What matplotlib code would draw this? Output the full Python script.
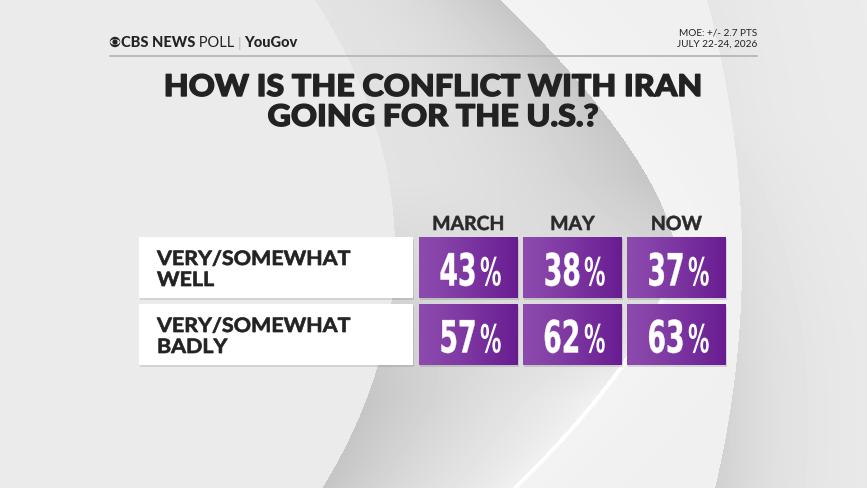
"""CBS News / YouGov poll card: how the conflict with Iran is going for the U.S."""

import matplotlib
matplotlib.use("Agg")
import matplotlib.pyplot as plt
import numpy as np
from matplotlib.patches import Rectangle, Circle, Ellipse
from matplotlib.patheffects import AbstractPathEffect
from matplotlib.transforms import Affine2D

# ---- data -------------------------------------------------------------
periods = ["MARCH", "MAY", "NOW"]
answers = ["VERY/SOMEWHAT\nWELL", "VERY/SOMEWHAT\nBADLY"]
well = [43, 38, 37]
badly = [57, 62, 63]
title_lines = ["HOW IS THE CONFLICT WITH IRAN", "GOING FOR THE U.S.?"]
moe_lines = ["MOE: +/- 2.7 PTS", "JULY 22-24, 2026"]

# ---- layout (pixels) -------------------------------------------------
W, H = 867, 488
ROW_TOP = [237, 304]
ROW_H = 61
LABEL_X, LABEL_W = 139, 274
CELL_X0, CELL_W, CELL_STEP = 419, 99, 104
DARK = "#222222"
PURPLE_L = np.array([0.55, 0.29, 0.68])
PURPLE_R = np.array([0.41, 0.11, 0.57])

TITLE_FONT = ["Lato", "DejaVu Sans"]
LABEL_FONT = ["Lato", "DejaVu Sans"]
NUM_FONT = ["DejaVu Sans"]


class Squeeze(AbstractPathEffect):
    """Scale glyph outlines horizontally (poor man's condensed/extended face),
    optionally thickening them with a stroke of the same colour."""

    def __init__(self, sx, anchor="center", stroke=0.0):
        super().__init__()
        self.sx, self.anchor, self.stroke = sx, anchor, stroke

    def draw_path(self, renderer, gc, tpath, affine, rgbFace=None):
        xs = tpath.vertices[:, 0]
        if len(xs) == 0:
            return
        x0 = {"left": xs.min(), "right": xs.max()}.get(self.anchor, 0.5 * (xs.min() + xs.max()))
        aff = Affine2D().translate(-x0, 0).scale(self.sx, 1).translate(x0, 0) + affine
        if self.stroke > 0:
            gc0 = renderer.new_gc()
            gc0.copy_properties(gc)
            gc0.set_linewidth(self.stroke)
            gc0.set_foreground(rgbFace)
            renderer.draw_path(gc0, tpath, aff, rgbFace)
            gc0.restore()
        else:
            renderer.draw_path(gc, tpath, aff, rgbFace)


def background():
    """Grey swoosh backdrop built procedurally."""
    yy, xx = np.mgrid[0:H, 0:W] + 0.5
    t = (yy - 250) / 250
    xl = 395 - 80 * t ** 2
    xr = 675 - 175 * np.abs(t) ** 1.5
    tw = (yy - 260) / 260
    xw = 742 - 35 * tw ** 2

    val = np.full((H, W), 0.918)
    band = (xx >= xl) & (xx < xr)
    s = np.clip((xx - xl) / (xr - xl), 0, 1)
    w = np.clip((yy - 180) / 220, 0, 1)
    shade = (1 - w) * (0.025 + 0.11 * s ** 2.0) + w * (0.14 * (1 - s) ** 1.6 - 0.03 * s ** 6)
    val = np.where(band, 0.912 - shade, val)

    d = xx - xr
    stripe = (d >= 0) & (d < 5)
    val = np.where(stripe, 0.95 + 0.05 * np.clip((yy - 220) / 150, 0, 1), val)
    mid = (d >= 5) & (xx < xw)
    val = np.where(mid, 0.94 + 0.02 * np.exp(-d / 40), val)

    e = xx - xw
    right = e >= 0
    val = np.where(right, 0.925 - 0.11 * np.exp(-e / 70) * np.clip(yy / H, 0.25, 1), val)
    return np.clip(val, 0, 1)


fig = plt.figure(figsize=(W / 100, H / 100), dpi=100)
ax = fig.add_axes([0, 0, 1, 1])
ax.imshow(background(), cmap="gray", vmin=0, vmax=1, extent=(0, W, H, 0),
          interpolation="bilinear", zorder=0)
ax.set_xlim(0, W)
ax.set_ylim(H, 0)
ax.axis("off")

# ---- header ----------------------------------------------------------
ax.add_patch(Circle((115, 42), 5.2, fc=DARK, ec="none", zorder=3))
ax.add_patch(Ellipse((115, 42), 9.6, 5.6, fc="#ececec", ec="none", zorder=4))
ax.add_patch(Circle((115, 42), 2.6, fc=DARK, ec="none", zorder=5))
t1 = ax.text(121, 47, "CBS NEWS", fontsize=10.5, fontweight="black",
             family=TITLE_FONT, color=DARK, va="baseline", zorder=5)
t2 = ax.annotate(" POLL", xy=(1, 0), xycoords=t1, va="bottom", fontsize=10.5,
                 fontweight="normal", family=TITLE_FONT, color=DARK, zorder=5)
t3 = ax.annotate(" | ", xy=(1, 0), xycoords=t2, va="bottom", fontsize=9,
                 family=TITLE_FONT, color="#b0b0b0", zorder=5)
ax.annotate("YouGov", xy=(1, 0), xycoords=t3, va="bottom", fontsize=10.5,
            fontweight="black", family=TITLE_FONT, color=DARK, zorder=5)

for i, line in enumerate(moe_lines):
    ax.text(757, 35 + 12 * i, line, fontsize=7.2, family=TITLE_FONT,
            color=DARK, ha="right", va="baseline", zorder=5)
ax.plot([110, 757], [56, 56], color="#b3b3b3", lw=1.2, zorder=5)

for i, line in enumerate(title_lines):
    ax.text(433, 96 + 30 * i, line, fontsize=21.5, fontweight="black",
            family=TITLE_FONT, color=DARK, ha="center", va="baseline", zorder=5,
            path_effects=[Squeeze(1.08, "center", stroke=1.0)])

# ---- table -----------------------------------------------------------
for j, p in enumerate(periods):
    cx = CELL_X0 + j * CELL_STEP + CELL_W / 2
    ax.text(cx, 230, p, fontsize=14, fontweight="bold", family=LABEL_FONT,
            color="#2a2a2a", ha="center", va="baseline", zorder=5,
            path_effects=[Squeeze(1.0, stroke=0.4)])

grad = np.linspace(0, 1, 64)[None, :, None]
purple = PURPLE_L + (PURPLE_R - PURPLE_L) * grad ** 1.2

for r, (label, vals) in enumerate(zip(answers, [well, badly])):
    top = ROW_TOP[r]
    ax.add_patch(Rectangle((LABEL_X + 1, top + 2), LABEL_W, ROW_H, fc="black",
                           alpha=0.10, ec="none", zorder=2))
    ax.add_patch(Rectangle((LABEL_X, top), LABEL_W, ROW_H, fc="white",
                           ec="none", zorder=3))
    for k, part in enumerate(label.split("\n")):
        ax.text(157, top + 28 + 21 * k, part, fontsize=14.3, fontweight="bold",
                family=LABEL_FONT, color=DARK, va="baseline", zorder=5,
                path_effects=[Squeeze(1.08, "left", stroke=0.5)])
    for j, v in enumerate(vals):
        x0 = CELL_X0 + j * CELL_STEP
        ax.add_patch(Rectangle((x0 + 1, top + 2), CELL_W, ROW_H, fc="black",
                               alpha=0.12, ec="none", zorder=2))
        ax.imshow(purple, extent=(x0, x0 + CELL_W, top + ROW_H, top),
                  aspect="auto", interpolation="bilinear", zorder=3)
        cx = x0 + CELL_W / 2 + 9.5
        ax.text(cx, top + 48.5, f"{v}", fontsize=32, fontweight="bold",
                family=NUM_FONT, color="white", ha="right", va="baseline", zorder=6,
                path_effects=[Squeeze(0.6, "right", stroke=0.3)])
        ax.text(cx + 2, top + 48.5, "%", fontsize=28, fontweight="bold",
                family=NUM_FONT, color="white", ha="left", va="baseline", zorder=6,
                path_effects=[Squeeze(0.55, "left")])

ax.set_xlim(0, W)
ax.set_ylim(H, 0)
fig.savefig("out.png", dpi=100)
